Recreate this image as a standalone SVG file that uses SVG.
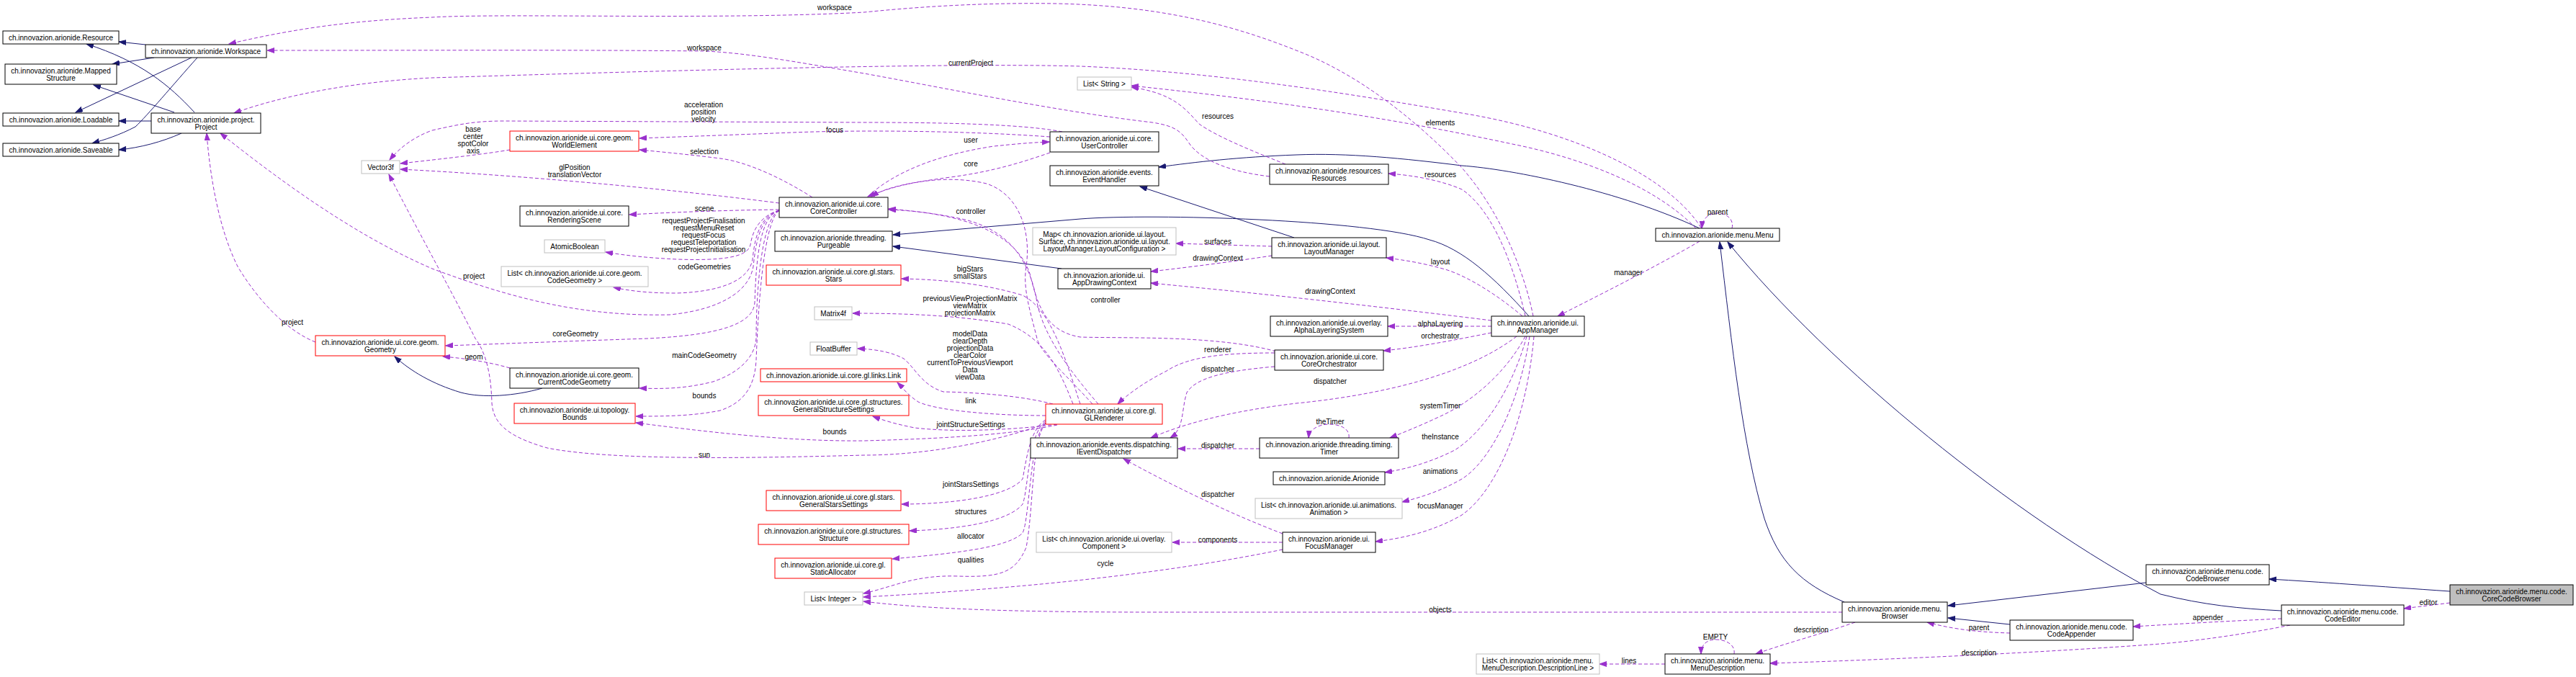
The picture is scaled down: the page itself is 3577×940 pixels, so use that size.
<svg xmlns="http://www.w3.org/2000/svg" width="3577" height="940" viewBox="0 0 3577 940">
<style>
text{font-family:"Liberation Sans",Arial,Helvetica,sans-serif;font-size:10px;fill:#000;text-anchor:middle}
.nd rect{fill:#fff;stroke:#000;stroke-width:1}
.nd.red rect{stroke:#ff0000}
.nd.gry rect{stroke:#bfbfbf}
.nd.root rect{fill:#bfbfbf}
.inh{fill:none;stroke:#191970;stroke-width:1;marker-end:url(#an)}
.use{fill:none;stroke:#9a32cd;stroke-width:1;stroke-dasharray:5,3;marker-end:url(#ap)}
</style>
<defs>
<marker id="an" markerWidth="11" markerHeight="8" refX="10" refY="3.5" orient="auto" markerUnits="userSpaceOnUse"><path d="M0,0 L10,3.5 L0,7 z" fill="#191970" stroke="#191970" stroke-width="1" stroke-dasharray="none"/></marker>
<marker id="ap" markerWidth="11" markerHeight="8" refX="10" refY="3.5" orient="auto" markerUnits="userSpaceOnUse"><path d="M0,0 L10,3.5 L0,7 z" fill="#9a32cd" stroke="#9a32cd" stroke-width="1" stroke-dasharray="none"/></marker>
</defs>
<rect width="3577" height="940" fill="#fff"/>

<g id="connectors">
<path class="inh" d="M202,62 L165,58"/>
<path class="inh" d="M214,80 L156,89"/>
<path class="inh" d="M266,80 L105,156"/>
<path class="inh" d="M274,80 C 240,118 205,160 188,176 C 165,188 145,194 128,199"/>
<path class="inh" d="M270,156 C 235,118 195,85 120,61"/>
<path class="inh" d="M242,156 L130,118"/>
<path class="inh" d="M210,168 L165,168"/>
<path class="inh" d="M252,185 C 225,197 195,205 165,208"/>
<path class="inh" d="M753,539 C 715,550 670,553 640,545 C 600,533 570,515 548,495"/>
<path class="inh" d="M2123,439 C 2075,385 2030,345 1985,333 C 1900,305 1600,296 1500,304 L 1240,326"/>
<path class="inh" d="M1474,373 L1240,342"/>
<path class="inh" d="M2360,317 C 2250,265 2100,235 2030,230 C 1950,220 1870,212 1800,215 C 1720,218 1660,225 1609,232"/>
<path class="inh" d="M1797,330 L1583,259"/>
<path class="inh" d="M2561,836 C 2500,810 2470,780 2450,720 C 2420,620 2405,480 2388,336"/>
<path class="inh" d="M3168,848 C 3110,845 3060,840 3000,825 C 2800,720 2540,510 2399,336"/>
<path class="inh" d="M2791,867 L2705,858"/>
<path class="inh" d="M2980,809 L2705,841"/>
<path class="inh" d="M3402,821 C 3300,814 3220,808 3151,804"/>

<path class="use" d="M2129,439 C 2115,370 2080,290 2030,233 C 1960,160 1880,100 1800,70 C 1700,30 1600,8 1468,5 C 1350,3 1250,12 1200,17 C 1000,28 700,18 600,24 C 500,28 420,37 318,61"/>
<path class="use" d="M1763,245 C 1705,238 1668,222 1652,200 C 1640,182 1632,175 1600,170 C 1470,155 1300,120 1200,102 C 1100,85 1040,74 980,71 C 800,69 600,70 371,70"/>
<path class="use" d="M2362,316 C 2320,250 2200,185 2030,157 C 1900,135 1700,100 1500,92 C 1300,86 800,102 600,108 C 500,113 400,130 325,157"/>
<path class="use" d="M2355,317 C 2300,260 2200,220 2100,200 C 1950,168 1800,143 1571,119"/>
<path class="use" d="M1785,228 C 1740,210 1690,190 1665,172 C 1645,150 1630,130 1571,121"/>
<path class="use" d="M2405,317 C 2408,305 2398,296 2385,296 C 2372,296 2364,304 2363,317"/>
<path class="use" d="M438,475 C 400,460 360,420 330,370 C 305,320 292,250 287,185"/>
<path class="use" d="M1082,293 C 1058,300 1050,330 1046,370 C 1040,405 1000,430 930,437 C 800,440 700,410 600,373 C 500,330 400,260 306,185"/>
<path class="use" d="M1082,292 C 1055,300 1045,320 1042,340 C 1038,358 1000,362 940,360 C 900,358 870,355 841,350"/>
<path class="use" d="M1082,292 C 1055,300 1048,330 1045,360 C 1040,390 1000,405 940,407 C 900,407 875,404 852,399"/>
<path class="use" d="M1082,292 C 1055,300 1050,360 1048,420 C 1046,450 1000,465 900,470 C 780,474 680,478 619,480"/>
<path class="use" d="M1082,292 C 1055,305 1050,420 1050,470 C 1048,500 1020,520 990,530 C 950,540 920,540 888,539"/>
<path class="use" d="M1082,292 C 1058,310 1052,450 1050,500 C 1048,540 1030,560 1000,570 C 960,578 920,578 883,578"/>
<path class="use" d="M1128,274 C 1090,250 1040,225 1000,220 C 960,215 930,212 888,208"/>
<path class="use" d="M1458,190 C 1350,182 1200,180 1100,184 C 1000,188 940,190 888,192"/>
<path class="use" d="M1475,183 C 1420,172 1300,170 1200,170 L 700,168 C 660,168 640,172 600,181 C 575,190 555,205 541,222"/>
<path class="use" d="M708,208 C 680,213 620,220 556,227"/>
<path class="use" d="M1082,282 C 950,265 750,245 556,235"/>
<path class="use" d="M1452,588 C 1380,615 1280,632 1200,632 C 1050,636 850,640 760,622 C 700,605 685,585 683,560 C 682,520 675,490 660,470 C 630,410 580,320 540,242"/>
<path class="use" d="M708,511 C 680,503 650,498 615,495"/>
<path class="use" d="M1082,291 C 1000,292 930,295 874,298"/>
<path class="use" d="M1205,273 C 1240,240 1300,215 1380,203 C 1410,200 1430,198 1457,197"/>
<path class="use" d="M1458,212 C 1420,225 1380,238 1320,246 C 1260,254 1230,260 1210,273"/>
<path class="use" d="M1517,561 C 1480,520 1445,490 1440,470 C 1430,430 1420,400 1425,370 C 1432,320 1415,270 1370,255 C 1320,243 1260,250 1205,273"/>
<path class="use" d="M1525,561 C 1490,520 1450,470 1440,420 C 1430,360 1400,320 1340,305 C 1300,296 1260,292 1234,290"/>
<path class="use" d="M1772,488 C 1690,465 1560,470 1500,468 C 1450,460 1440,420 1430,380 C 1410,320 1330,295 1234,291"/>
<path class="use" d="M1500,561 C 1480,500 1460,430 1420,410 C 1360,392 1300,388 1252,387"/>
<path class="use" d="M1490,561 C 1470,510 1450,470 1400,450 C 1330,438 1260,435 1184,435"/>
<path class="use" d="M1462,561 C 1420,550 1360,545 1310,544 C 1280,535 1270,510 1255,498 C 1240,490 1220,485 1191,484"/>
<path class="use" d="M1452,577 C 1380,577 1300,570 1275,558 C 1260,548 1255,540 1246,531"/>
<path class="use" d="M1468,589 C 1400,598 1320,600 1270,594 C 1240,588 1225,583 1212,578"/>
<path class="use" d="M1468,590 C 1420,600 1350,608 1200,612 C 1100,613 1000,602 883,587"/>
<path class="use" d="M1452,583 C 1430,595 1425,640 1420,665 C 1400,690 1320,700 1252,700"/>
<path class="use" d="M1452,585 C 1428,600 1428,680 1420,700 C 1400,725 1330,735 1263,737"/>
<path class="use" d="M1452,587 C 1430,605 1430,720 1420,740 C 1400,760 1330,768 1239,776"/>
<path class="use" d="M1452,588 C 1432,610 1436,700 1425,760 C 1410,795 1390,802 1330,800 C 1270,798 1240,815 1199,824"/>
<path class="use" d="M1781,763 C 1600,800 1400,818 1199,829"/>
<path class="use" d="M2558,850 L1600,850 C 1400,850 1280,845 1199,835"/>
<path class="use" d="M1781,753 L1628,753"/>
<path class="use" d="M1781,741 C 1700,710 1620,670 1560,637"/>
<path class="use" d="M1749,623 L1636,623"/>
<path class="use" d="M1873,608 C 1875,595 1860,589 1846,589 C 1830,589 1818,597 1817,608"/>
<path class="use" d="M2118,467 C 2090,520 2040,560 2000,578 C 1970,592 1950,600 1930,608"/>
<path class="use" d="M2120,467 C 2100,540 2060,600 2020,625 C 1990,640 1960,650 1923,656"/>
<path class="use" d="M2124,467 C 2110,560 2070,640 2030,665 C 2000,682 1975,690 1947,697"/>
<path class="use" d="M2130,467 C 2120,580 2080,680 2030,715 C 1990,738 1950,747 1910,752"/>
<path class="use" d="M2312,922 L2221,922"/>
<path class="use" d="M2408,908 C 2410,895 2396,888 2383,888 C 2370,888 2362,895 2362,908"/>
<path class="use" d="M2576,864 C 2530,880 2480,893 2438,908"/>
<path class="use" d="M2791,879 C 2760,878 2720,876 2676,864"/>
<path class="use" d="M3180,868 C 3120,880 3050,890 3000,894 C 2850,905 2650,915 2458,921"/>
<path class="use" d="M3168,859 C 3100,862 3030,866 2962,870"/>
<path class="use" d="M3402,837 C 3380,840 3360,842 3338,845"/>
<path class="use" d="M2118,439 C 2100,360 2070,290 2030,263 C 2000,250 1960,243 1928,241"/>
<path class="use" d="M2114,439 C 2080,410 2040,385 2010,375 C 1980,366 1950,361 1925,358"/>
<path class="use" d="M2360,335 C 2300,370 2220,410 2163,439"/>
<path class="use" d="M2071,445 C 1950,430 1800,413 1700,403 L 1598,393"/>
<path class="use" d="M1766,355 C 1720,362 1660,370 1598,377"/>
<path class="use" d="M1766,342 L1633,338"/>
<path class="use" d="M2071,453 L1927,453"/>
<path class="use" d="M2071,462 C 2020,472 1970,482 1921,487"/>
<path class="use" d="M2106,467 C 2050,510 1950,545 1800,560 C 1700,572 1640,590 1598,608"/>
<path class="use" d="M1770,509 C 1700,515 1660,525 1648,545 C 1640,570 1645,595 1625,608"/>
<path class="use" d="M1770,490 C 1700,490 1650,495 1620,515 C 1590,530 1565,548 1552,561"/>

<text x="1159" y="13.5">workspace</text>
<text x="978" y="69.5">workspace</text>
<text x="1348" y="90.5">currentProject</text>
<text x="1691" y="164.5">resources</text>
<text x="2000" y="173.5">elements</text>
<text x="977" y="148.5">acceleration</text><text x="977" y="158.5">position</text><text x="977" y="168.5">velocity</text>
<text x="657" y="182.5">base</text><text x="657" y="192.5">center</text><text x="657" y="202.5">spotColor</text><text x="657" y="212.5">axis</text>
<text x="1159" y="183.5">focus</text>
<text x="1348" y="197.5">user</text>
<text x="978" y="213.5">selection</text>
<text x="1348" y="230.5">core</text>
<text x="798" y="235.5">glPosition</text><text x="798" y="245.5">translationVector</text>
<text x="2000" y="245.5">resources</text>
<text x="978" y="292.5">scene</text>
<text x="1348" y="296.5">controller</text>
<text x="2385" y="297.5">parent</text>
<text x="977" y="309.5">requestProjectFinalisation</text><text x="977" y="319.5">requestMenuReset</text><text x="977" y="329.5">requestFocus</text><text x="977" y="339.5">requestTeleportation</text><text x="977" y="349.5">requestProjectInitialisation</text>
<text x="1691" y="338.5">surfaces</text>
<text x="1691" y="361.5">drawingContext</text>
<text x="2000" y="366.5">layout</text>
<text x="978" y="373.5">codeGeometries</text>
<text x="1347" y="376.5">bigStars</text><text x="1347" y="386.5">smallStars</text>
<text x="2261" y="381.5">manager</text>
<text x="658" y="386.5">project</text>
<text x="1847" y="407.5">drawingContext</text>
<text x="1347" y="417.5">previousViewProjectionMatrix</text><text x="1347" y="427.5">viewMatrix</text><text x="1347" y="437.5">projectionMatrix</text>
<text x="1535" y="419.5">controller</text>
<text x="406" y="450.5">project</text>
<text x="2000" y="452.5">alphaLayering</text>
<text x="799" y="466.5">coreGeometry</text>
<text x="1347" y="466.5">modelData</text><text x="1347" y="476.5">clearDepth</text><text x="1347" y="486.5">projectionData</text><text x="1347" y="496.5">clearColor</text><text x="1347" y="506.5">currentToPreviousViewport</text><text x="1347" y="516.5">Data</text><text x="1347" y="526.5">viewData</text>
<text x="2000" y="469.5">orchestrator</text>
<text x="1691" y="488.5">renderer</text>
<text x="978" y="496.5">mainCodeGeometry</text>
<text x="658" y="498.5">geom</text>
<text x="1691" y="515.5">dispatcher</text>
<text x="1847" y="532.5">dispatcher</text>
<text x="978" y="552.5">bounds</text>
<text x="1348" y="559.5">link</text>
<text x="2000" y="566.5">systemTimer</text>
<text x="1847" y="588.5">theTimer</text>
<text x="1348" y="592.5">jointStructureSettings</text>
<text x="1159" y="602.5">bounds</text>
<text x="2000" y="609.5">theInstance</text>
<text x="1691" y="621.5">dispatcher</text>
<text x="978" y="634.5">sun</text>
<text x="2000" y="657.5">animations</text>
<text x="1348" y="675.5">jointStarsSettings</text>
<text x="1691" y="689.5">dispatcher</text>
<text x="2000" y="705.5">focusManager</text>
<text x="1348" y="713.5">structures</text>
<text x="1348" y="747.5">allocator</text>
<text x="1691" y="752.5">components</text>
<text x="1348" y="780.5">qualities</text>
<text x="1535" y="785.5">cycle</text>
<text x="2000" y="849.5">objects</text>
<text x="3372" y="839.5">editor</text>
<text x="3066" y="860.5">appender</text>
<text x="2748" y="874.5">parent</text>
<text x="2515" y="877.5">description</text>
<text x="2382" y="887.5">EMPTY</text>
<text x="2748" y="909.5">description</text>
<text x="2262" y="920.5">lines</text>
</g>

<g id="n-resource" class="nd"><rect x="4" y="43" width="161" height="18"/><text x="84.5" y="55.5">ch.innovazion.arionide.Resource</text></g>
<g id="n-workspace" class="nd"><rect x="202" y="62" width="168" height="18"/><text x="286" y="74.5">ch.innovazion.arionide.Workspace</text></g>
<g id="n-mapped" class="nd"><rect x="7" y="89" width="155" height="28"/><text x="84.5" y="101.5">ch.innovazion.arionide.Mapped</text><text x="84.5" y="111.5">Structure</text></g>
<g id="n-loadable" class="nd"><rect x="4" y="157" width="161" height="18"/><text x="84.5" y="169.5">ch.innovazion.arionide.Loadable</text></g>
<g id="n-project" class="nd"><rect x="210" y="157" width="152" height="28"/><text x="286" y="169.5">ch.innovazion.arionide.project.</text><text x="286" y="179.5">Project</text></g>
<g id="n-saveable" class="nd"><rect x="4" y="199" width="161" height="18"/><text x="84.5" y="211.5">ch.innovazion.arionide.Saveable</text></g>
<g id="n-vector3f" class="nd gry"><rect x="502" y="223" width="53" height="18"/><text x="528.5" y="235.5">Vector3f</text></g>
<g id="n-geometry" class="nd red"><rect x="438" y="466" width="180" height="28"/><text x="528" y="478.5">ch.innovazion.arionide.ui.core.geom.</text><text x="528" y="488.5">Geometry</text></g>
<g id="n-worldelement" class="nd red"><rect x="708" y="182" width="179" height="28"/><text x="797.5" y="194.5">ch.innovazion.arionide.ui.core.geom.</text><text x="797.5" y="204.5">WorldElement</text></g>
<g id="n-renderingscene" class="nd"><rect x="722" y="286" width="151" height="28"/><text x="797.5" y="298.5">ch.innovazion.arionide.ui.core.</text><text x="797.5" y="308.5">RenderingScene</text></g>
<g id="n-atomicboolean" class="nd gry"><rect x="756" y="333" width="84" height="18"/><text x="798" y="345.5">AtomicBoolean</text></g>
<g id="n-listcodegeometry" class="nd gry"><rect x="696" y="370" width="204" height="28"/><text x="798" y="382.5">List&lt; ch.innovazion.arionide.ui.core.geom.</text><text x="798" y="392.5">CodeGeometry &gt;</text></g>
<g id="n-currentcodegeometry" class="nd"><rect x="708" y="511" width="179" height="28"/><text x="797.5" y="523.5">ch.innovazion.arionide.ui.core.geom.</text><text x="797.5" y="533.5">CurrentCodeGeometry</text></g>
<g id="n-bounds" class="nd red"><rect x="714" y="560" width="168" height="28"/><text x="798" y="572.5">ch.innovazion.arionide.ui.topology.</text><text x="798" y="582.5">Bounds</text></g>
<g id="n-corecontroller" class="nd"><rect x="1082" y="274" width="151" height="28"/><text x="1157.5" y="286.5">ch.innovazion.arionide.ui.core.</text><text x="1157.5" y="296.5">CoreController</text></g>
<g id="n-purgeable" class="nd"><rect x="1076" y="321" width="163" height="28"/><text x="1157.5" y="333.5">ch.innovazion.arionide.threading.</text><text x="1157.5" y="343.5">Purgeable</text></g>
<g id="n-stars" class="nd red"><rect x="1064" y="368" width="187" height="28"/><text x="1157.5" y="380.5">ch.innovazion.arionide.ui.core.gl.stars.</text><text x="1157.5" y="390.5">Stars</text></g>
<g id="n-matrix4f" class="nd gry"><rect x="1131" y="426" width="52" height="18"/><text x="1157" y="438.5">Matrix4f</text></g>
<g id="n-floatbuffer" class="nd gry"><rect x="1125" y="475" width="65" height="18"/><text x="1157.5" y="487.5">FloatBuffer</text></g>
<g id="n-link" class="nd red"><rect x="1056" y="512" width="203" height="18"/><text x="1157.5" y="524.5">ch.innovazion.arionide.ui.core.gl.links.Link</text></g>
<g id="n-generalstructuresettings" class="nd red"><rect x="1053" y="549" width="209" height="28"/><text x="1157.5" y="561.5">ch.innovazion.arionide.ui.core.gl.structures.</text><text x="1157.5" y="571.5">GeneralStructureSettings</text></g>
<g id="n-generalstarssettings" class="nd red"><rect x="1064" y="681" width="187" height="28"/><text x="1157.5" y="693.5">ch.innovazion.arionide.ui.core.gl.stars.</text><text x="1157.5" y="703.5">GeneralStarsSettings</text></g>
<g id="n-structure" class="nd red"><rect x="1053" y="728" width="209" height="28"/><text x="1157.5" y="740.5">ch.innovazion.arionide.ui.core.gl.structures.</text><text x="1157.5" y="750.5">Structure</text></g>
<g id="n-staticallocator" class="nd red"><rect x="1076" y="775" width="162" height="28"/><text x="1157" y="787.5">ch.innovazion.arionide.ui.core.gl.</text><text x="1157" y="797.5">StaticAllocator</text></g>
<g id="n-listinteger" class="nd gry"><rect x="1117" y="822" width="81" height="18"/><text x="1157.5" y="834.5">List&lt; Integer &gt;</text></g>
<g id="n-liststring" class="nd gry"><rect x="1496" y="107" width="75" height="18"/><text x="1533.5" y="119.5">List&lt; String &gt;</text></g>
<g id="n-usercontroller" class="nd"><rect x="1458" y="183" width="151" height="28"/><text x="1533.5" y="195.5">ch.innovazion.arionide.ui.core.</text><text x="1533.5" y="205.5">UserController</text></g>
<g id="n-eventhandler" class="nd"><rect x="1458" y="230" width="151" height="28"/><text x="1533.5" y="242.5">ch.innovazion.arionide.events.</text><text x="1533.5" y="252.5">EventHandler</text></g>
<g id="n-map" class="nd gry"><rect x="1434" y="316" width="199" height="38"/><text x="1533.5" y="328.5">Map&lt; ch.innovazion.arionide.ui.layout.</text><text x="1533.5" y="338.5">Surface, ch.innovazion.arionide.ui.layout.</text><text x="1533.5" y="348.5">LayoutManager.LayoutConfiguration &gt;</text></g>
<g id="n-appdrawingcontext" class="nd"><rect x="1469" y="373" width="129" height="28"/><text x="1533.5" y="385.5">ch.innovazion.arionide.ui.</text><text x="1533.5" y="395.5">AppDrawingContext</text></g>
<g id="n-glrenderer" class="nd red"><rect x="1452" y="561" width="162" height="28"/><text x="1533" y="573.5">ch.innovazion.arionide.ui.core.gl.</text><text x="1533" y="583.5">GLRenderer</text></g>
<g id="n-ieventdispatcher" class="nd"><rect x="1431" y="608" width="204" height="28"/><text x="1533" y="620.5">ch.innovazion.arionide.events.dispatching.</text><text x="1533" y="630.5">IEventDispatcher</text></g>
<g id="n-listcomponent" class="nd gry"><rect x="1439" y="739" width="188" height="28"/><text x="1533" y="751.5">List&lt; ch.innovazion.arionide.ui.overlay.</text><text x="1533" y="761.5">Component &gt;</text></g>
<g id="n-resources" class="nd"><rect x="1763" y="228" width="165" height="28"/><text x="1845.5" y="240.5">ch.innovazion.arionide.resources.</text><text x="1845.5" y="250.5">Resources</text></g>
<g id="n-layoutmanager" class="nd"><rect x="1766" y="330" width="159" height="28"/><text x="1845.5" y="342.5">ch.innovazion.arionide.ui.layout.</text><text x="1845.5" y="352.5">LayoutManager</text></g>
<g id="n-alphalayering" class="nd"><rect x="1764" y="439" width="163" height="28"/><text x="1845.5" y="451.5">ch.innovazion.arionide.ui.overlay.</text><text x="1845.5" y="461.5">AlphaLayeringSystem</text></g>
<g id="n-coreorchestrator" class="nd"><rect x="1770" y="486" width="151" height="28"/><text x="1845.5" y="498.5">ch.innovazion.arionide.ui.core.</text><text x="1845.5" y="508.5">CoreOrchestrator</text></g>
<g id="n-timer" class="nd"><rect x="1749" y="608" width="193" height="28"/><text x="1845.5" y="620.5">ch.innovazion.arionide.threading.timing.</text><text x="1845.5" y="630.5">Timer</text></g>
<g id="n-arionide" class="nd"><rect x="1768" y="655" width="155" height="18"/><text x="1845.5" y="667.5">ch.innovazion.arionide.Arionide</text></g>
<g id="n-listanimation" class="nd gry"><rect x="1743" y="692" width="204" height="28"/><text x="1845" y="704.5">List&lt; ch.innovazion.arionide.ui.animations.</text><text x="1845" y="714.5">Animation &gt;</text></g>
<g id="n-focusmanager" class="nd"><rect x="1781" y="739" width="129" height="28"/><text x="1845.5" y="751.5">ch.innovazion.arionide.ui.</text><text x="1845.5" y="761.5">FocusManager</text></g>
<g id="n-menu" class="nd"><rect x="2299" y="317" width="172" height="18"/><text x="2385" y="329.5">ch.innovazion.arionide.menu.Menu</text></g>
<g id="n-appmanager" class="nd"><rect x="2071" y="439" width="129" height="28"/><text x="2135.5" y="451.5">ch.innovazion.arionide.ui.</text><text x="2135.5" y="461.5">AppManager</text></g>
<g id="n-listdescriptionline" class="nd gry"><rect x="2050" y="908" width="171" height="28"/><text x="2135.5" y="920.5">List&lt; ch.innovazion.arionide.menu.</text><text x="2135.5" y="930.5">MenuDescription.DescriptionLine &gt;</text></g>
<g id="n-menudescription" class="nd"><rect x="2312" y="908" width="146" height="28"/><text x="2385" y="920.5">ch.innovazion.arionide.menu.</text><text x="2385" y="930.5">MenuDescription</text></g>
<g id="n-browser" class="nd"><rect x="2558" y="836" width="146" height="28"/><text x="2631" y="848.5">ch.innovazion.arionide.menu.</text><text x="2631" y="858.5">Browser</text></g>
<g id="n-codeappender" class="nd"><rect x="2791" y="861" width="171" height="28"/><text x="2876.5" y="873.5">ch.innovazion.arionide.menu.code.</text><text x="2876.5" y="883.5">CodeAppender</text></g>
<g id="n-codebrowser" class="nd"><rect x="2980" y="784" width="171" height="28"/><text x="3065.5" y="796.5">ch.innovazion.arionide.menu.code.</text><text x="3065.5" y="806.5">CodeBrowser</text></g>
<g id="n-codeeditor" class="nd"><rect x="3168" y="840" width="170" height="28"/><text x="3253" y="852.5">ch.innovazion.arionide.menu.code.</text><text x="3253" y="862.5">CodeEditor</text></g>
<g id="n-corecodebrowser" class="nd root"><rect x="3402" y="812" width="171" height="28"/><text x="3487.5" y="824.5">ch.innovazion.arionide.menu.code.</text><text x="3487.5" y="834.5">CoreCodeBrowser</text></g>
</svg>
